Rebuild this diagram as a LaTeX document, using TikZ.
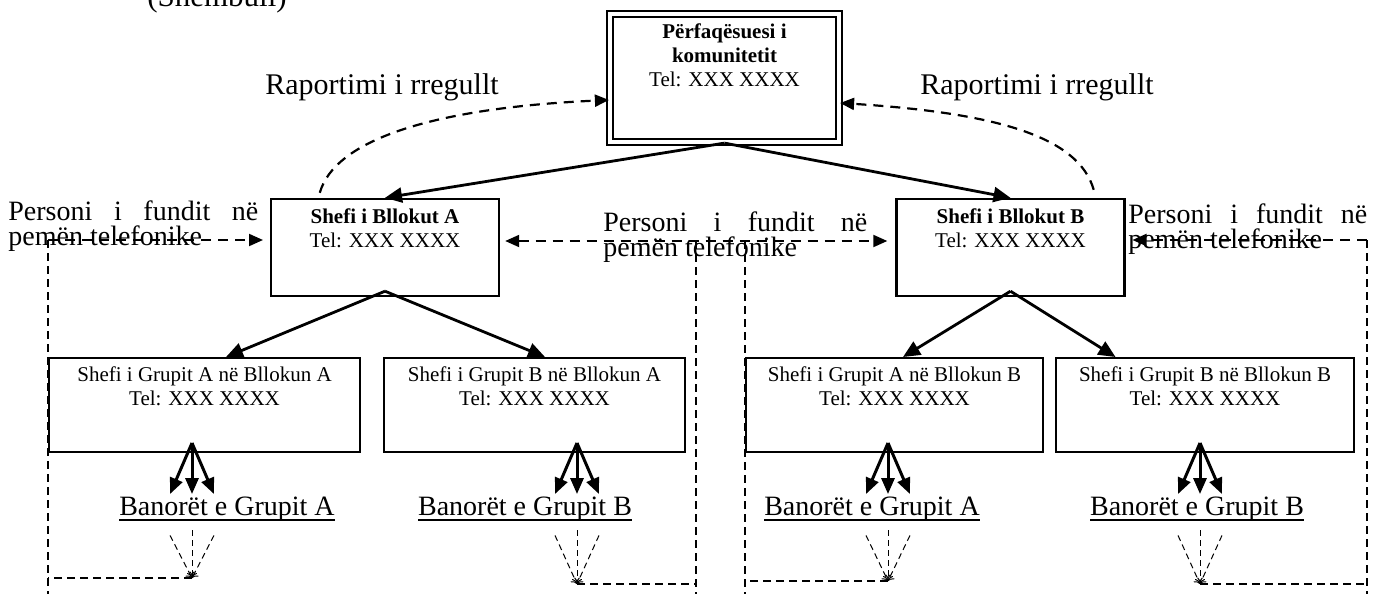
\documentclass[tikz,border=0pt]{standalone}
\usepackage{fontspec}
\setmainfont{Liberation Serif}
\usetikzlibrary{arrows.meta}
\usetikzlibrary{calc}
\newcommand{\boxfont}{\fontsize{10.5}{12}\selectfont}
\newcommand{\labelfont}{\fontsize{14}{12.5}\selectfont}
\newcommand{\undr}[1]{\setbox0\hbox{#1}\rlap{\rule[-3pt]{\wd0}{0.9pt}}\box0}
\newcommand{\lastperson}[1]{\makebox[#1][s]{Personi i fundit në}\\pemën telefonike}
\tikzset{chief/.style={draw,line width=#1,minimum width=114pt,minimum height=48.5pt,inner sep=0pt},chief/.default=1.2pt}
\tikzset{grpbox/.style={draw,line width=1pt,minimum width=#1,minimum height=47pt,inner sep=0pt},grpbox/.default=150pt}
\tikzset{boxtext/.style={align=center,inner xsep=0pt,inner ysep=#1,font=\boxfont},boxtext/.default=5.5pt}
\tikzset{note/.style={align=left,inner sep=0pt,anchor=north west,font=\labelfont}}
\tikzset{resident/.style={anchor=base,inner sep=1pt,font=\labelfont}}
\tikzset{link/.style={line width=#1,-{Triangle[length=8.5pt,width=7.5pt]}},link/.default=1.4pt}
\tikzset{fan/.style={line width=1.5pt,-{Triangle[length=8pt,width=6.5pt]}}}
\tikzset{phoneline/.style={line width=#1,dash pattern=on 5pt off 3.5pt},phoneline/.default=1pt}
\tikzset{trail/.style={line width=#1,dash pattern=on 4pt off 2.5pt},trail/.default=0.6pt}
\tikzset{arrowed/.style={-{Triangle[length=#1,width=6pt]}},arrowed/.default=7pt}
\tikzset{twoway/.style={{Triangle[length=#1,width=6pt]}-{Triangle[length=#1,width=6pt]}},twoway/.default=7pt}

\begin{document}
\begin{tikzpicture}[x=0.5pt,y=-0.5pt]
	\useasboundingbox (0,0) rectangle (1394,594);
	\node [anchor=base,font=\fontsize{15.5}{15.5}\selectfont] (sample) at (217,6.5) {(Shembull)};

	\node [chief=1.1pt,double,double distance=1.6pt,minimum width=114.5pt,minimum height=64pt,
		label={[boxtext=5pt,anchor=north]north:{\textbf{Përfaqësuesi i}\\\textbf{komunitetit}\\Tel: XXX XXXX}}] (rep) at (724.5,78) {};
	\node [font=\fontsize{15}{15}\selectfont] (repL) at (382,87) {Raportimi i rregullt};
	\node [font=\fontsize{15}{15}\selectfont] (repR) at (1037,87) {Raportimi i rregullt};

	\node [chief,label={[boxtext,anchor=north]north:{\textbf{Shefi i Bllokut A}\\Tel: XXX XXXX}}] (blkA) at (385,247.5) {};
	\node [chief,label={[boxtext,anchor=north]north:{\textbf{Shefi i Bllokut B}\\Tel: XXX XXXX}}] (blkB) at (1010.5,247.5) {};

	\node [note] (lastL) at (8,200.7) {\lastperson{125pt}};
	\node [note] (lastM) at (603,211.7) {\lastperson{132pt}};
	\node [note] (lastR) at (1128,203.7) {\lastperson{119.5pt}};

	\node [grpbox=155.5pt,label={[boxtext=4.5pt,anchor=north]north:{Shefi i Grupit A në Bllokun A\\Tel: XXX XXXX}}] (grpAA) at (204.5,405) {};
	\node [grpbox=150.5pt,label={[boxtext=4.5pt,anchor=north]north:{Shefi i Grupit B në Bllokun A\\Tel: XXX XXXX}}] (grpBA) at (534.5,405) {};
	\node [grpbox=148.5pt,label={[boxtext=4.5pt,anchor=north]north:{Shefi i Grupit A në Bllokun B\\Tel: XXX XXXX}}] (grpAB) at (894.5,405) {};
	\node [grpbox=149pt,label={[boxtext=4.5pt,anchor=north]north:{Shefi i Grupit B në Bllokun B\\Tel: XXX XXXX}}] (grpBB) at (1205,405) {};

	\node [resident] (resAA) at (227,515) {\undr{Banorët e Grupit A}};
	\node [resident] (resBA) at (525,515) {\undr{Banorët e Grupit B}};
	\node [resident] (resAB) at (872,515) {\undr{Banorët e Grupit A}};
	\node [resident] (resBB) at (1197,515) {\undr{Banorët e Grupit B}};

	\coordinate (fanAA) at (192,443);
	\coordinate (fanBA) at (577,443);
	\coordinate (fanAB) at (888,443);
	\coordinate (fanBB) at (1200,443);
	\coordinate (dropAA) at (192,578);
	\coordinate (dropBA) at (577,584);
	\coordinate (dropAB) at (888,581);
	\coordinate (dropBB) at (1200,584);
	\coordinate (retAA) at (48,240);
	\coordinate (retBA) at (696,241);
	\coordinate (retAB) at (745,241);
	\coordinate (retBB) at (1367,240);
	\coordinate (floor) at (0,600);

	\draw [link] (rep.south) -- (blkA.north);
	\draw [link] (rep.south) -- (blkB.north);
	\draw [link] ($(blkA.south)+(0,-6)$) -- ($(grpAA.north)+(21.5,0)$);
	\draw [link] ($(blkA.south)+(0,-6)$) -- ($(grpBA.north)+(10.5,0)$);
	\draw [link] ($(blkB.south)+(0,-6)$) -- ($(grpAB.north)+(8.5,0)$);
	\draw [link] ($(blkB.south)+(0,-6)$) -- ($(grpBB.north)+(-89.5,0)$);

	\draw [phoneline=1.1pt,arrowed] ($(blkA.north west)+(50,-5)$) .. controls +(15,-53) and +(-176,8) .. ($(rep.west)+(0,22)$);
	\draw [phoneline=1.1pt,arrowed] ($(blkB.north east)+(-32,-8)$) .. controls +(-15,-53) and +(157,10) .. ($(rep.east)+(0,25)$);

	\draw [phoneline,arrowed,shorten >=3.4pt] (retAA) -- (blkA.west |- retAA);
	\draw [phoneline,twoway,shorten <=2.5pt,shorten >=4pt] (blkA.east |- retBA) -- (blkB.west |- retBA);
	\draw [phoneline,arrowed,shorten >=3.4pt] (retBB) -- (blkB.east |- retBB);

	\draw [trail] (retAA) -- (retAA |- floor);
	\draw [trail] (retBA) -- (retBA |- floor);
	\draw [trail] (retAB) -- (retAB |- floor);
	\draw [trail] (retBB) -- (retBB |- floor);
	\draw [trail] (dropAA) -- (dropAA -| retAA);
	\draw [trail] (dropBA) -- (dropBA -| retBA);
	\draw [trail] (dropAB) -- (dropAB -| retAB);
	\draw [trail] (dropBB) -- (dropBB -| retBB);

	\foreach \g in {AA,BA,AB,BB} {
		\foreach \d in {-22,0,22}
			\draw [fan] (fan\g) -- ($(fan\g |- res\g.north)+(\d,0)$);
		\foreach \d/\e in {-22/12,0/7,22/12}
			\draw [trail=0.5pt,dash pattern=on 3pt off 2pt,-{To[length=2.5pt,width=5pt]}] ($(res\g.south -| drop\g)+(\d,\e)$) -- (drop\g);
	}
\end{tikzpicture}
\end{document}
